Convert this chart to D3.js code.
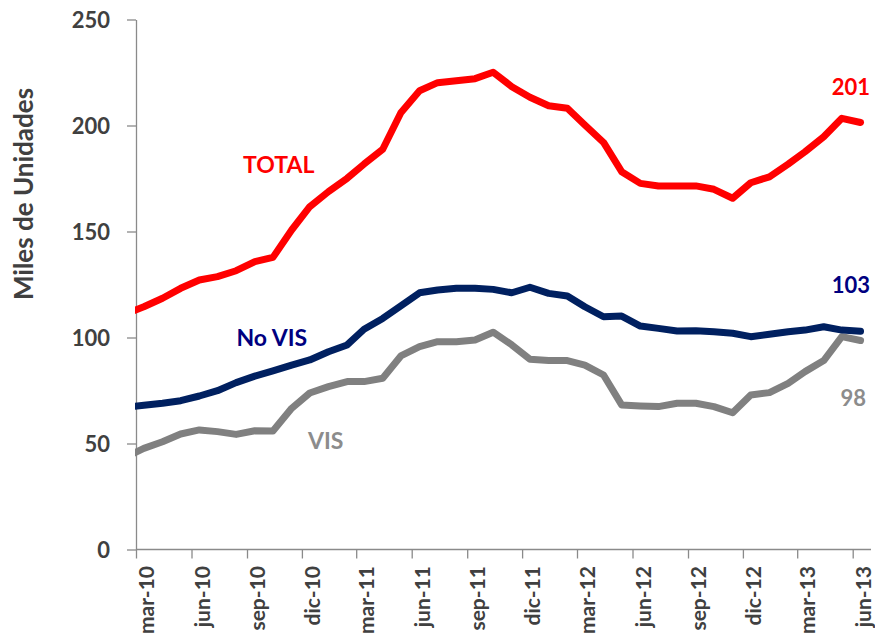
<!DOCTYPE html>
<html>
<head>
<meta charset="utf-8">
<script src="https://cdn.jsdelivr.net/npm/d3@7"></script>
<style>
  html, body { margin: 0; padding: 0; background: #ffffff; }
  svg { display: block; }
</style>
</head>
<body>
<svg id="chart" width="875" height="637"></svg>
<script>
// ---- data ----
const months = [
  "2010-02","2010-03","2010-04","2010-05","2010-06","2010-07","2010-08","2010-09","2010-10","2010-11","2010-12",
  "2011-01","2011-02","2011-03","2011-04","2011-05","2011-06","2011-07","2011-08","2011-09","2011-10","2011-11","2011-12",
  "2012-01","2012-02","2012-03","2012-04","2012-05","2012-06","2012-07","2012-08","2012-09","2012-10","2012-11","2012-12",
  "2013-01","2013-02","2013-03","2013-04","2013-05","2013-06"
];
const total = [
  111.4, 114.5, 118.5, 123.2, 127.1, 128.7, 131.5, 135.8, 137.8, 150.7, 161.7,
  168.8, 175.1, 181.8, 188.8, 206.0, 216.4, 220.2, 221.1, 222.1, 225.1, 218.3, 213.3,
  209.3, 208.1, 200.2, 192.0, 178.2, 172.7, 171.5, 171.5, 171.5, 169.9, 165.7, 173.0,
  175.8, 181.8, 187.6, 194.7, 203.4, 201.4
];
const noVis = [
  67.2, 68.0, 69.0, 70.2, 72.4, 74.9, 78.7, 81.8, 84.3, 87.0, 89.4,
  93.3, 96.5, 103.9, 109.0, 114.9, 121.1, 122.4, 123.2, 123.2, 122.7, 121.1, 123.7,
  120.8, 119.6, 114.5, 109.8, 110.1, 105.4, 104.3, 103.1, 103.2, 102.7, 102.0, 100.4,
  101.5, 102.7, 103.5, 105.1, 103.5, 102.9
];
const vis = [
  43.9, 47.7, 50.8, 54.5, 56.4, 55.6, 54.3, 56.0, 55.9, 66.6, 73.8,
  76.8, 79.2, 79.2, 80.8, 91.3, 95.7, 98.0, 98.0, 98.8, 102.5, 96.5, 89.7,
  89.1, 89.1, 87.0, 82.3, 68.2, 67.7, 67.4, 69.0, 69.0, 67.4, 64.5, 72.9,
  74.0, 78.4, 83.9, 89.1, 100.4, 98.6
];
const tickMonths = ["2010-03","2010-06","2010-09","2010-12","2011-03","2011-06","2011-09","2011-12",
                    "2012-03","2012-06","2012-09","2012-12","2013-03","2013-06"];
const tickLabels = ["mar-10","jun-10","sep-10","dic-10","mar-11","jun-11","sep-11","dic-11",
                    "mar-12","jun-12","sep-12","dic-12","mar-13","jun-13"];
const yTicks = [0, 50, 100, 150, 200, 250];
const seriesNames = ["TOTAL", "No VIS", "VIS"];
const endLabels = ["201", "103", "98"];

// ---- layout / style ----
const FONT = "Lato, 'Open Sans', 'DejaVu Sans', sans-serif";
const AXIS_COLOR = "#8a8a8a";
const TEXT_COLOR = "#404040";
const RED = "#ff0000", NAVY = "#002060", NAVY_TXT = "#000080", GRAY = "#808080", GRAY_TXT = "#8c8c8c";

const svg = d3.select("#chart");
const parse = d3.timeParse("%Y-%m");
const pointDate = m => d3.timeDay.offset(parse(m), 13);

const x = d3.scaleTime()
  .domain([parse("2010-03"), parse("2013-06")])
  .range([136, 852.7]);
const y = d3.scaleLinear().domain([0, 250]).range([549.5, 19.5]);

// clip for the plot area
svg.append("defs").append("clipPath").attr("id", "plot")
  .append("rect").attr("x", 135).attr("y", 0).attr("width", 740).attr("height", 560);

// ---- Y axis ----
const yAxis = svg.append("g").attr("transform", "translate(136,0)")
  .call(d3.axisLeft(y).tickValues(yTicks).tickSize(9).tickSizeOuter(0).tickPadding(17));
yAxis.select(".domain").attr("stroke", AXIS_COLOR).attr("stroke-width", 1.3);
yAxis.selectAll(".tick line").attr("stroke", AXIS_COLOR).attr("stroke-width", 1.3);
yAxis.selectAll(".tick text")
  .attr("font-family", FONT).attr("font-weight", "bold").attr("font-size", 22)
  .attr("fill", TEXT_COLOR).attr("dy", "0.36em");

// ---- X axis ----
const xAxis = svg.append("g").attr("transform", `translate(0,${y(0)})`)
  .call(d3.axisBottom(x).tickValues(tickMonths.map(parse)).tickSize(9).tickSizeOuter(0)
        .tickFormat((d, i) => tickLabels[i]));
xAxis.select(".domain").attr("d", `M136,0H871`).attr("stroke", AXIS_COLOR).attr("stroke-width", 1.3);
xAxis.selectAll(".tick line").attr("stroke", AXIS_COLOR).attr("stroke-width", 1.3);
xAxis.selectAll(".tick text")
  .attr("font-family", FONT).attr("font-weight", "bold").attr("font-size", 21)
  .attr("fill", TEXT_COLOR)
  .attr("text-anchor", "end")
  .attr("x", 0).attr("y", 0).attr("dy", 0)
  .attr("transform", "translate(17.5,16.5) rotate(-90)");

// ---- Y title ----
svg.append("text")
  .attr("transform", "translate(33,194) rotate(-90)")
  .attr("text-anchor", "middle")
  .attr("font-family", FONT).attr("font-weight", "bold").attr("font-size", 26)
  .attr("fill", TEXT_COLOR)
  .text("Miles de Unidades");

// ---- lines ----
const line = d3.line().x((d, i) => x(pointDate(months[i]))).y(d => y(d));
const plot = svg.append("g").attr("clip-path", "url(#plot)");
[[total, RED], [vis, GRAY], [noVis, NAVY]].forEach(([vals, col]) => {
  plot.append("path").datum(vals)
    .attr("d", line)
    .attr("fill", "none").attr("stroke", col).attr("stroke-width", 7)
    .attr("stroke-linejoin", "round").attr("stroke-linecap", "round");
});

// ---- series labels ----
const lab = (txt, xx, yy, col, anchor, size) => svg.append("text")
  .attr("x", xx).attr("y", yy).attr("text-anchor", anchor)
  .attr("font-family", FONT).attr("font-weight", "bold").attr("font-size", size)
  .attr("fill", col).text(txt);
lab(seriesNames[0], 243, 173, RED, "start", 23);
lab(seriesNames[1], 236.5, 346, NAVY_TXT, "start", 23);
lab(seriesNames[2], 308, 449.3, GRAY_TXT, "start", 23);
lab(endLabels[0], 870, 95, RED, "end", 22);
lab(endLabels[1], 870, 293.3, NAVY_TXT, "end", 22);
lab(endLabels[2], 866, 406, GRAY_TXT, "end", 22);
</script>
</body>
</html>
